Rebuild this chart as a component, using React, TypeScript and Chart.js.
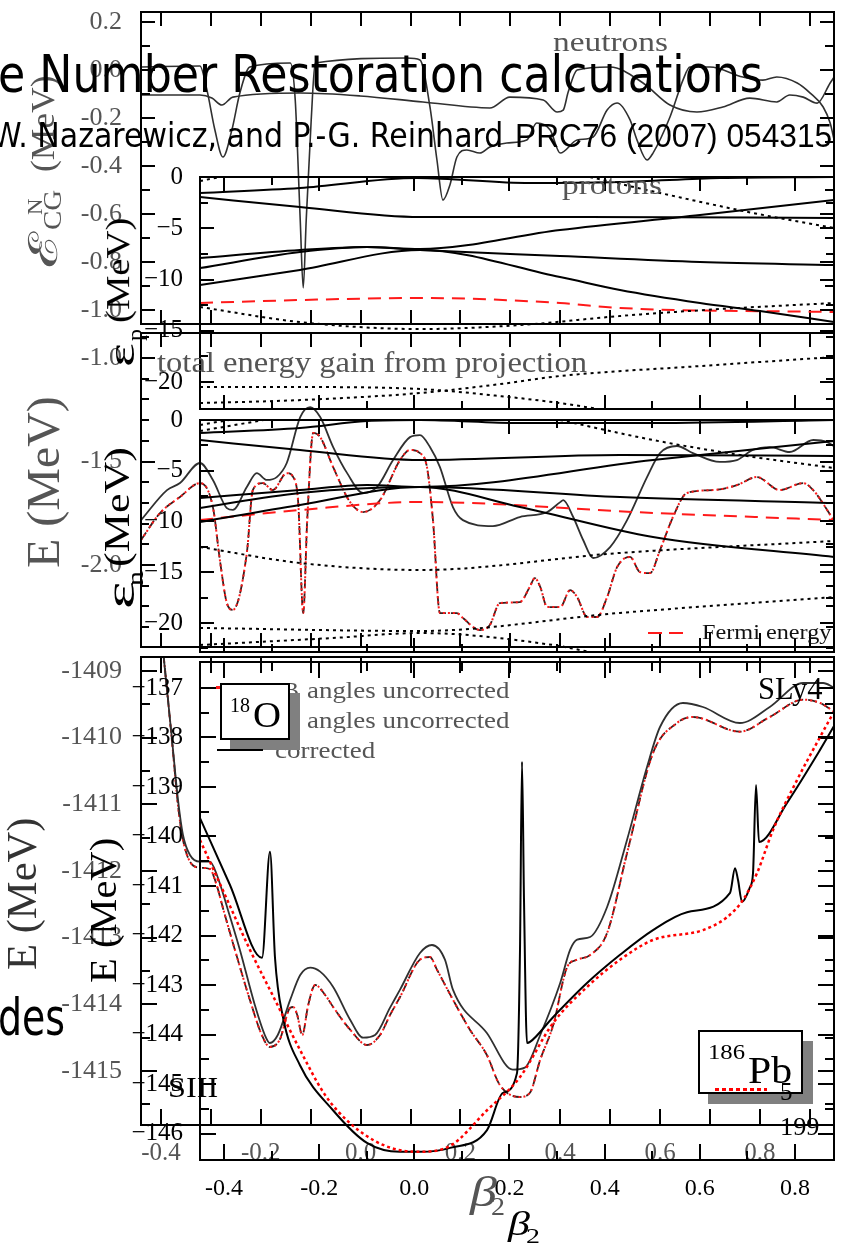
import React, { useEffect, useLayoutEffect, useRef } from 'react';
import { Chart, registerables } from 'chart.js';

Chart.register(...registerables);

type P = [number, number][];

// ================= Figure A (18O, gray) — x: beta2 =================
// Panel A1: E_CG^N (MeV), neutrons
const neutronsSmooth: P = [
  [-0.44, -0.104], [-0.322, -0.104], [-0.298, -0.117], [-0.278, -0.146], [-0.256, -0.113], [-0.121, -0.096],
  [-0.001, -0.108], [0.125, -0.133], [0.259, -0.158], [0.299, -0.113], [0.366, -0.125], [0.394, -0.175],
  [0.406, -0.167], [0.416, -0.092], [0.434, 0.0], [0.5, 0.0125], [0.566, -0.054], [0.62, -0.146],
  [0.674, -0.175], [0.726, -0.154], [0.78, -0.117], [0.834, -0.133], [0.86, -0.104], [0.887, -0.113],
  [0.915, -0.138], [0.941, -0.054], [0.949, -0.029],
];
const neutronsDips: P = [
  [-0.44, 0.0125], [-0.322, 0.017], [-0.308, -0.083], [-0.292, -0.25], [-0.276, -0.3625], [-0.258, -0.25],
  [-0.242, -0.096], [-0.222, 0.0125], [-0.141, 0.029], [-0.131, -0.125], [-0.121, -0.625], [-0.115, -0.908],
  [-0.109, -0.625], [-0.099, -0.208], [-0.091, 0.029], [0.093, 0.05], [0.119, 0.042], [0.139, -0.154],
  [0.153, -0.375], [0.165, -0.542], [0.179, -0.479], [0.193, -0.3625], [0.213, -0.333], [0.239, -0.346],
  [0.259, -0.321], [0.293, -0.304], [0.333, -0.292], [0.353, -0.221], [0.38, -0.25], [0.4, -0.346],
  [0.434, -0.292], [0.466, -0.279], [0.494, -0.167], [0.514, -0.1375], [0.54, -0.208], [0.554, -0.292],
  [0.574, -0.375], [0.586, -0.346], [0.62, -0.196], [0.646, -0.042], [0.66, 0.0125], [0.7, 0.0125],
  [0.766, -0.029], [0.806, -0.042], [0.834, -0.029], [0.875, -0.054], [0.901, -0.096], [0.927, -0.154],
  [0.941, -0.221], [0.949, -0.292],
];
// Panel A2: total energy gain from projection (MeV)
const gainSolid: P = [
  [-0.44, -1.783], [-0.388, -1.638], [-0.362, -1.604], [-0.322, -1.507], [-0.296, -1.589], [-0.268, -1.725],
  [-0.256, -1.734], [-0.228, -1.623], [-0.208, -1.556], [-0.188, -1.589], [-0.168, -1.575], [-0.148, -1.507],
  [-0.121, -1.285], [-0.101, -1.237], [-0.081, -1.285], [-0.055, -1.43], [-0.027, -1.556], [0.005, -1.652],
  [0.033, -1.623], [0.065, -1.493], [0.099, -1.382], [0.119, -1.372], [0.139, -1.43], [0.159, -1.527],
  [0.185, -1.72], [0.205, -1.783], [0.265, -1.812], [0.319, -1.768], [0.374, -1.744], [0.4, -1.696],
  [0.406, -1.686], [0.426, -1.768], [0.446, -1.879], [0.466, -1.966], [0.5, -1.913], [0.534, -1.783],
  [0.574, -1.575], [0.6, -1.459], [0.634, -1.425], [0.666, -1.459], [0.72, -1.502], [0.754, -1.493],
  [0.786, -1.444], [0.82, -1.43], [0.86, -1.454], [0.907, -1.396], [0.935, -1.406], [0.951, -1.43],
];
const gainDashed: P = [
  [-0.44, -1.879], [-0.402, -1.749], [-0.362, -1.671], [-0.322, -1.604], [-0.296, -1.72], [-0.282, -1.976],
  [-0.268, -2.184], [-0.256, -2.217], [-0.228, -1.942], [-0.216, -1.638], [-0.196, -1.604], [-0.176, -1.638],
  [-0.148, -1.556], [-0.135, -1.575], [-0.125, -1.7], [-0.115, -2.232], [-0.107, -1.783], [-0.095, -1.362],
  [-0.081, -1.382], [-0.055, -1.527], [-0.021, -1.696], [0.005, -1.744], [0.039, -1.686], [0.079, -1.493],
  [0.099, -1.444], [0.119, -1.459], [0.133, -1.527], [0.145, -1.783], [0.159, -2.232], [0.173, -2.232],
  [0.193, -2.232], [0.205, -2.256], [0.239, -2.314], [0.259, -2.29], [0.279, -2.184], [0.319, -2.179],
  [0.339, -2.106], [0.349, -2.063], [0.36, -2.106], [0.374, -2.203], [0.4, -2.203], [0.42, -2.121],
  [0.434, -2.155], [0.454, -2.251], [0.474, -2.251], [0.494, -2.155], [0.514, -2.01], [0.54, -1.961],
  [0.56, -2.034], [0.58, -2.039], [0.6, -1.928], [0.626, -1.768], [0.654, -1.652], [0.706, -1.638],
  [0.754, -1.614], [0.794, -1.575], [0.84, -1.638], [0.887, -1.604], [0.907, -1.638], [0.935, -1.734],
  [0.951, -1.797],
];
// Panel A3: E (MeV), 18O
const o18Corrected: P = [
  [-0.398, -1408.54], [-0.386, -1409.43], [-0.376, -1410.18], [-0.366, -1410.93], [-0.356, -1411.46],
  [-0.342, -1411.76], [-0.322, -1411.86], [-0.302, -1411.86], [-0.288, -1412.06], [-0.266, -1412.58],
  [-0.242, -1413.18], [-0.212, -1414.01], [-0.192, -1414.46], [-0.182, -1414.58], [-0.166, -1414.46],
  [-0.141, -1413.93], [-0.121, -1413.56], [-0.101, -1413.45], [-0.081, -1413.51], [-0.055, -1413.74],
  [-0.021, -1414.23], [0.005, -1414.5], [0.029, -1414.46], [0.059, -1414.05], [0.079, -1413.78],
  [0.119, -1413.23], [0.143, -1413.11], [0.169, -1413.33], [0.185, -1413.78], [0.253, -1414.43],
  [0.305, -1414.98], [0.329, -1414.95], [0.36, -1414.46], [0.4, -1413.68], [0.42, -1413.18],
  [0.434, -1413.03], [0.46, -1412.99], [0.494, -1412.54], [0.534, -1411.53], [0.574, -1410.44],
  [0.6, -1409.84], [0.646, -1409.48], [0.686, -1409.54], [0.76, -1409.78], [0.82, -1409.54],
  [0.887, -1409.18], [0.927, -1409.18], [0.949, -1409.25],
];
const o18Uncorrected: P = [
  [-0.398, -1408.54], [-0.386, -1409.43], [-0.376, -1410.21], [-0.366, -1411.01], [-0.356, -1411.53],
  [-0.342, -1411.86], [-0.322, -1411.95], [-0.302, -1411.97], [-0.292, -1412.13], [-0.272, -1412.66],
  [-0.252, -1413.18], [-0.222, -1413.93], [-0.198, -1414.46], [-0.182, -1414.64], [-0.162, -1414.53],
  [-0.141, -1414.05], [-0.135, -1414.04], [-0.127, -1414.16], [-0.117, -1414.46], [-0.105, -1414.01],
  [-0.091, -1413.71], [-0.071, -1413.86], [-0.055, -1414.04], [-0.021, -1414.38], [0.013, -1414.61],
  [0.039, -1414.46], [0.059, -1414.16], [0.079, -1413.89], [0.119, -1413.33], [0.139, -1413.29],
  [0.153, -1413.48], [0.185, -1413.93], [0.219, -1414.38], [0.253, -1414.76], [0.279, -1415.21],
  [0.319, -1415.39], [0.339, -1415.33], [0.36, -1414.83], [0.386, -1414.31], [0.414, -1413.44],
  [0.434, -1413.33], [0.46, -1413.26], [0.494, -1412.93], [0.534, -1411.73], [0.586, -1410.23],
  [0.634, -1409.78], [0.666, -1409.69], [0.76, -1409.91], [0.82, -1409.69], [0.887, -1409.43],
  [0.921, -1409.48], [0.949, -1409.61],
];

// ================= Figure B (186Pb, black) — x: beta2 =================
// Panel B1: proton levels eps_p (MeV)
const pLevel1: P = [[-0.4504, -1.56], [-0.2403, -1.07], [0.0056, -0.1], [0.2431, -0.59], [0.4323, -0.49], [0.6425, -0.1], [0.882, 0]];
const pLevel2: P = [[-0.4504, -1.95], [-0.2403, -2.93], [0.0119, -3.9], [0.3629, -3.9], [0.882, -4.0]];
const pLevel3: P = [[-0.4504, -7.9], [-0.2403, -7.12], [-0.0995, -6.83], [0.0119, -7.02], [0.3062, -5.17], [0.6004, -3.71], [0.882, -2.24]];
const pLevel4: P = [[-0.4504, -8.88], [-0.2403, -7.32], [-0.0995, -6.83], [0.0119, -7.12], [0.3062, -7.71], [0.6004, -8.29], [0.882, -8.59]];
const pLevel5: P = [[-0.4504, -10.54], [-0.2403, -9.07], [0.0119, -7.12], [0.3062, -9.76], [0.4323, -11.02], [0.6004, -12.29], [0.7265, -13.07], [0.882, -14.15]];
const pFermi: P = [[-0.4504, -12.29], [-0.2403, -12.0], [0.0119, -11.8], [0.3062, -12.29], [0.4323, -12.78], [0.882, -13.17]];
const pOther1: P = [[-0.4504, -0.39], [-0.3979, 0.1]];
const pOther2: P = [[0.3692, 0], [0.5164, -1.56], [0.7118, -3.51], [0.882, -4.98]];
const pOther3: P = [[-0.4504, -12.68], [-0.2403, -14.15], [0.0119, -14.83], [0.2221, -14.44], [0.4323, -13.56], [0.6425, -12.88], [0.882, -12.29]];
const pOther4: P = [[-0.4504, -22.05], [-0.2403, -21.76], [0.0119, -21.07], [0.1801, -20.2], [0.3062, -19.41], [0.6004, -18.44], [0.882, -17.56]];
const pOther5: P = [[-0.4504, -20.49], [-0.2403, -20.49], [0.0119, -20.68], [0.1801, -21.37], [0.3062, -22.05], [0.4008, -22.73]];
// Panel B2: neutron levels eps_n (MeV)
const nLevel1: P = [[-0.4504, -1.28], [-0.2403, -0.79], [-0.0995, -0.1], [0.0119, 0], [0.2221, -0.3], [0.5016, -0.3], [0.882, 0]];
const nLevel2: P = [[-0.4504, -1.97], [-0.2403, -2.96], [0.0119, -3.94], [0.4323, -3.45], [0.882, -3.55]];
const nLevel3: P = [[-0.4504, -7.68], [-0.2403, -6.9], [-0.0995, -6.4], [0.0119, -6.6], [0.5016, -3.94], [0.882, -2.07]];
const nLevel4: P = [[-0.4504, -8.67], [-0.2403, -7.19], [0.0119, -6.6], [0.4323, -7.59], [0.882, -8.18]];
const nLevel5: P = [[-0.4504, -10.05], [-0.2403, -8.37], [0.0119, -6.6], [0.2221, -8.57], [0.5016, -11.53], [0.882, -13.5]];
const nFermi: P = [[-0.4504, -9.85], [-0.2403, -8.87], [0.0119, -8.08], [0.5016, -9.16], [0.882, -9.85]];
const nOther1: P = [[-0.4504, -0.49], [-0.3769, 0.1]];
const nOther2: P = [[-0.4504, -1.08], [-0.3033, 0.1]];
const nOther3: P = [[0.3062, 0], [0.5016, -1.97], [0.6845, -3.45], [0.882, -4.73]];
const nOther4: P = [[-0.4504, -12.51], [-0.2403, -14.09], [0.0119, -14.78], [0.4323, -13.1], [0.882, -11.92]];
const nOther5: P = [[-0.4504, -20.49], [0.0119, -20.79], [0.4323, -19.01], [0.882, -17.44]];
const nOther6: P = [[-0.4504, -22.17], [-0.1709, -21.48], [0.0119, -20.99], [0.2915, -22.17], [0.3692, -22.86]];
// Panel B3: E (MeV), 186Pb
const pb186Solid: P = [
  [-0.4504, -139.63], [-0.3874, -140.98], [-0.3201, -142.45], [-0.3033, -140.31], [-0.2928, -142.45],
  [-0.276, -143.65], [-0.2403, -144.62], [-0.1709, -145.53], [-0.0995, -146.19], [-0.0301, -146.37],
  [0.0119, -146.37], [0.075, -146.29], [0.1528, -145.93], [0.1864, -145.18], [0.2158, -144.78],
  [0.2221, -142.29], [0.2263, -138.49], [0.2305, -141.28], [0.2368, -144.17], [0.2431, -144.15],
  [0.2915, -143.65], [0.3629, -142.96], [0.4323, -142.39], [0.5016, -141.89], [0.5731, -141.53],
  [0.6635, -141.14], [0.674, -140.64], [0.6803, -140.88], [0.6887, -141.32], [0.7055, -141.02],
  [0.7118, -140.74], [0.7181, -138.96], [0.7244, -140.11], [0.7833, -139.32], [0.8527, -138.25],
  [0.882, -137.77],
];
const pb186Dotted: P = [
  [-0.4504, -140.07], [-0.3979, -141.18], [-0.3454, -142.29], [-0.2928, -143.3], [-0.2403, -144.31],
  [-0.1877, -145.22], [-0.1352, -145.79], [-0.0658, -146.23], [0.0056, -146.37], [0.075, -146.25],
  [0.1528, -145.53], [0.2221, -144.86], [0.2915, -143.77], [0.3629, -143.04], [0.4323, -142.49],
  [0.5016, -142.09], [0.6067, -141.89], [0.6572, -141.63], [0.6908, -141.28], [0.7202, -140.74],
  [0.7538, -139.87], [0.8043, -138.86], [0.8527, -137.99], [0.882, -137.48],
];

// ================= tick labels =================
const betaTicksA = [-0.4, -0.2, 0.0, 0.2, 0.4, 0.6, 0.8];
const betaTicksB = [-0.4, -0.2, 0.0, 0.2, 0.4, 0.6, 0.8];
const ecgTicks = [0.2, 0.0, -0.2, -0.4, -0.6, -0.8, -1.0];
const gainTicks = [-1.0, -1.5, -2.0];
const o18Ticks = [-1409, -1410, -1411, -1412, -1413, -1414, -1415];
const epsTicks = [0, -5, -10, -15, -20];
const pbTicks = [-137, -138, -139, -140, -141, -142, -143, -144, -145, -146];

// ================= layout helpers =================
const M = 60;
const CW = 841 + 2 * M;
const CH = 1246 + 2 * M;
const SERIF = "'Liberation Serif', 'DejaVu Serif', serif";
const SANS = "'DejaVu Sans', 'Noto Sans', sans-serif";
const GRAY = '#555';

function range(a: number, b: number, s: number) {
  const out: number[] = [];
  const n = Math.round((b - a) / s);
  for (let i = 0; i <= n; i++) out.push(+(a + i * s).toFixed(6));
  return out;
}

const line = (d: P, color: string, w: number, dash: number[] = [], smooth = true) => ({
  data: d.map(([x, y]) => ({ x, y })),
  borderColor: color,
  borderWidth: w,
  borderDash: dash,
  pointRadius: 0,
  fill: false,
  cubicInterpolationMode: smooth ? 'monotone' : 'default',
  tension: 0,
});

type Panel = {
  rect: [number, number, number, number];
  xr: [number, number];
  yr: [number, number];
  yTicks: number[];
  yFmt: (v: number) => string;
  yColor: string;
  yFont: number;
  yPad: number;
  xTicks?: number[];
  xColor?: string;
  xFont?: number;
  xPad?: number;
  frame: { xMaj: number[]; xMin: number[]; yMaj: number[]; yMin: number[]; lMaj: number; lMin: number };
  datasets: any[];
};

function framePlugin(f: Panel['frame']) {
  return {
    id: 'frame',
    afterDatasetsDraw(chart: any) {
      const { ctx, chartArea: a, scales } = chart;
      const xs = scales.x;
      const ys = scales.y;
      ctx.save();
      ctx.strokeStyle = '#000';
      ctx.lineWidth = 2;
      ctx.setLineDash([]);
      ctx.beginPath();
      const seg = (x1: number, y1: number, x2: number, y2: number) => {
        ctx.moveTo(x1, y1);
        ctx.lineTo(x2, y2);
      };
      const vx = (vals: number[], len: number) =>
        vals.forEach((v) => {
          const px = Math.round(xs.getPixelForValue(v));
          if (px <= a.left + 2 || px >= a.right - 2) return;
          seg(px, a.bottom, px, a.bottom - len);
          seg(px, a.top, px, a.top + len);
        });
      const vy = (vals: number[], len: number) =>
        vals.forEach((v) => {
          const py = Math.round(ys.getPixelForValue(v));
          if (py <= a.top + 2 || py >= a.bottom - 2) return;
          seg(a.left, py, a.left + len, py);
          seg(a.right, py, a.right - len, py);
        });
      vx(f.xMaj, f.lMaj);
      vx(f.xMin, f.lMin);
      vy(f.yMaj, f.lMaj);
      vy(f.yMin, f.lMin);
      ctx.stroke();
      ctx.strokeRect(a.left, a.top, a.right - a.left, a.bottom - a.top);
      ctx.restore();
    },
  };
}

function buildConfig(p: Panel): any {
  const [l, t, r, b] = p.rect;
  const wY = 140;
  const hX = 60;
  const showX = !!p.xTicks;
  return {
    type: 'line',
    data: { datasets: p.datasets },
    options: {
      responsive: false,
      animation: false,
      devicePixelRatio: 1,
      layout: {
        padding: { left: M + l - wY, top: M + t, right: CW - (M + r), bottom: CH - (M + b) - (showX ? hX : 0) },
      },
      plugins: { legend: { display: false }, tooltip: { enabled: false } },
      scales: {
        x: {
          type: 'linear',
          min: p.xr[0],
          max: p.xr[1],
          display: showX,
          grid: { display: false, drawTicks: false },
          border: { display: false },
          afterBuildTicks: (s: any) => {
            s.ticks = (p.xTicks || []).map((v) => ({ value: v }));
          },
          ticks: {
            autoSkip: false,
            maxRotation: 0,
            padding: p.xPad ?? 13,
            color: p.xColor ?? '#000',
            font: { family: SERIF, size: p.xFont ?? 24 },
            callback: (v: number) => (Math.abs(v) < 1e-9 ? '0.0' : (+v).toFixed(1)),
          },
          afterFit: (s: any) => {
            s.height = showX ? hX : 0;
          },
        },
        y: {
          type: 'linear',
          position: 'left',
          min: p.yr[0],
          max: p.yr[1],
          grid: { display: false, drawTicks: false },
          border: { display: false },
          afterBuildTicks: (s: any) => {
            s.ticks = p.yTicks.map((v) => ({ value: v }));
          },
          ticks: {
            autoSkip: false,
            padding: p.yPad,
            color: p.yColor,
            font: { family: SERIF, size: p.yFont },
            callback: (v: number) => p.yFmt(+v),
          },
          afterFit: (s: any) => {
            s.width = wY;
          },
        },
      },
    },
    plugins: [framePlugin(p.frame)],
  };
}

const A_X: [number, number] = [-0.4401, 0.9487];
const B_X: [number, number] = [-0.4504, 0.882];
const aFrameX = { xMaj: range(-0.4, 0.9, 0.1), xMin: [] as number[] };
const bFrameX = { xMaj: range(-0.4, 0.8, 0.2), xMin: range(-0.3, 0.7, 0.2) };
const fmtA1 = (v: number) => (Math.abs(v) < 1e-9 ? '0.0' : v.toFixed(1));
const fmtB = (v: number) => (Math.abs(v) < 1e-9 ? '0' : '\u2212' + Math.abs(Math.round(v)));

const RED = '#ff1a1a';
const A_LINE = '#303030';

const panels: Panel[] = [
  {
    rect: [141, 12, 834, 324], xr: A_X, yr: [-1.0583, 0.2417], yTicks: ecgTicks, yFmt: fmtA1, yColor: GRAY, yFont: 26, yPad: 19,
    frame: { ...aFrameX, yMaj: range(-1.0, 0.2, 0.2), yMin: range(-0.9, 0.1, 0.2), lMaj: 14, lMin: 9 },
    datasets: [line(neutronsSmooth, A_LINE, 1.6), line(neutronsDips, A_LINE, 1.6)],
  },
  {
    rect: [141, 333, 834, 647], xr: A_X, yr: [-2.396, -0.879], yTicks: gainTicks, yFmt: (v) => v.toFixed(1), yColor: GRAY, yFont: 26, yPad: 19,
    frame: { ...aFrameX, yMaj: range(-2.0, -1.0, 0.5), yMin: range(-2.3, -0.9, 0.1), lMaj: 14, lMin: 8 },
    datasets: [line(gainSolid, A_LINE, 1.8), line(gainDashed, RED, 2, [2, 3]), line(gainDashed, '#3a1d1d', 1.8, [9, 5])],
  },
  {
    rect: [141, 657, 834, 1125], xr: A_X, yr: [-1415.81, -1408.79], yTicks: o18Ticks, yFmt: (v) => String(Math.round(v)), yColor: GRAY, yFont: 26, yPad: 19,
    xTicks: betaTicksA, xColor: GRAY, xFont: 25, xPad: 13,
    frame: { ...aFrameX, yMaj: range(-1415, -1409, 1), yMin: range(-1415.5, -1409, 0.5), lMaj: 16, lMin: 9 },
    datasets: [line(o18Corrected, A_LINE, 1.8), line(o18Uncorrected, RED, 2, [2, 3]), line(o18Uncorrected, '#3a1d1d', 1.8, [9, 5])],
  },
  {
    rect: [200, 177, 834, 409], xr: B_X, yr: [-22.63, 0], yTicks: epsTicks, yFmt: fmtB, yColor: '#000', yFont: 25, yPad: 17,
    frame: { ...bFrameX, yMaj: range(-20, 0, 5), yMin: range(-22.5, 0, 2.5), lMaj: 14, lMin: 8 },
    datasets: [
      line(pLevel1, '#000', 2), line(pLevel2, '#000', 2), line(pLevel3, '#000', 2), line(pLevel4, '#000', 2), line(pLevel5, '#000', 2),
      line(pOther1, '#000', 2, [3, 4]), line(pOther2, '#000', 2, [3, 4]), line(pOther3, '#000', 2, [3, 4]),
      line(pOther4, '#000', 2, [3, 4]), line(pOther5, '#000', 2, [3, 4]),
      line(pFermi, RED, 2, [13, 8]),
    ],
  },
  {
    rect: [200, 420, 834, 652], xr: B_X, yr: [-22.86, 0], yTicks: epsTicks, yFmt: fmtB, yColor: '#000', yFont: 25, yPad: 17,
    frame: { ...bFrameX, yMaj: range(-20, 0, 5), yMin: range(-22.5, 0, 2.5), lMaj: 14, lMin: 8 },
    datasets: [
      line(nLevel1, '#000', 2), line(nLevel2, '#000', 2), line(nLevel3, '#000', 2), line(nLevel4, '#000', 2), line(nLevel5, '#000', 2),
      line(nOther1, '#000', 2, [3, 4]), line(nOther2, '#000', 2, [3, 4]), line(nOther3, '#000', 2, [3, 4]),
      line(nOther4, '#000', 2, [3, 4]), line(nOther5, '#000', 2, [3, 4]), line(nOther6, '#000', 2, [3, 4]),
      line(nFermi, RED, 2, [13, 8]),
    ],
  },
  {
    rect: [200, 662, 834, 1160], xr: B_X, yr: [-146.535, -136.475], yTicks: pbTicks, yFmt: fmtB, yColor: '#000', yFont: 25, yPad: 17,
    xTicks: betaTicksB, xColor: '#000', xFont: 24, xPad: 14,
    frame: { ...bFrameX, yMaj: range(-146, -137, 1), yMin: range(-146.5, -136.5, 0.5), lMaj: 16, lMin: 9 },
    datasets: [line(pb186Dotted, '#ff0000', 2.5, [3, 3]), line(pb186Solid, '#000', 2)],
  },
];

// ================= text helpers =================
type TP = {
  x: number; b: number; s: number; w?: number; fam?: string; color?: string; rot?: boolean; italic?: boolean; children: React.ReactNode;
};
function T({ x, b, s, w, fam = SERIF, color = '#000', rot = false, italic = false, children }: TP) {
  // non-rotated: x = left, b = baseline. rotated: x = baseline x, b = bottom end of text.
  const tx = rot ? x - 0.85 * s : x;
  const ty = rot ? b : b - 0.85 * s;
  return (
    <div
      data-t="1"
      data-x={tx}
      data-y={ty}
      data-w={w ?? ''}
      data-rot={rot ? '1' : '0'}
      style={{
        position: 'absolute', left: 0, top: 0, fontSize: s, lineHeight: 1, fontFamily: fam, color,
        whiteSpace: 'nowrap', transformOrigin: '0 0', fontStyle: italic ? 'italic' : 'normal',
        transform: rot ? `translate(${tx}px, ${ty}px) rotate(-90deg)` : `translate(${tx}px, ${ty}px)`,
      }}
    >
      {children}
    </div>
  );
}
const Box = ({ l, t, w, h, bg, border }: { l: number; t: number; w: number; h: number; bg?: string; border?: string }) => (
  <div style={{ position: 'absolute', left: l, top: t, width: w, height: h, background: bg, border, boxSizing: 'border-box' }} />
);

export default function App() {
  const canv = useRef<(HTMLCanvasElement | null)[]>([]);

  useEffect(() => {
    const charts = panels.map((p, i) => new Chart(canv.current[i] as HTMLCanvasElement, buildConfig(p)));
    return () => charts.forEach((c) => c.destroy());
  }, []);

  useLayoutEffect(() => {
    document.querySelectorAll<HTMLElement>('[data-t]').forEach((el) => {
      const x = +el.dataset.x!;
      const y = +el.dataset.y!;
      const w = el.dataset.w ? +el.dataset.w : 0;
      const rot = el.dataset.rot === '1';
      const nw = el.offsetWidth;
      const k = w && nw ? w / nw : 1;
      el.style.transform = rot
        ? `translate(${x}px, ${y}px) rotate(-90deg) scaleX(${k})`
        : `translate(${x}px, ${y}px) scaleX(${k})`;
    });
  }, []);

  return (
    <div style={{ position: 'absolute', left: 0, top: 0, width: 841, height: 1246, overflow: 'hidden', background: '#fff' }}>
      {panels.map((_, i) => (
        <canvas
          key={i}
          ref={(el) => { canv.current[i] = el; }}
          width={CW}
          height={CH}
          style={{ position: 'absolute', left: -M, top: -M, width: CW, height: CH }}
        />
      ))}

      {/* Figure A labels (gray) */}
      <T x={553} b={52} s={27} w={115} color={GRAY}>neutrons</T>
      <T x={562} b={195} s={27} w={100} color={GRAY}>protons</T>
      <T x={157} b={372} s={30} w={430} color={GRAY}>total energy gain from projection</T>
      <T x={58} b={268} s={40} w={36} color={GRAY} rot>ℰ</T>
      <T x={62} b={230} s={26} w={40} color={GRAY} rot>CG</T>
      <T x={42} b={215} s={20} w={16} color={GRAY} rot>N</T>
      <T x={55} b={172} s={34} w={97} color={GRAY} rot>(MeV)</T>
      <T x={60} b={568} s={46} w={172} color={GRAY} rot>E (MeV)</T>
      <T x={37} b={970} s={42} w={152} color="#333" rot>E (MeV)</T>
      <T x={470} b={1207} s={42} w={27} color={GRAY} italic>β</T>
      <T x={491} b={1216} s={26} w={14} color={GRAY}>2</T>
      <T x={283} b={698} s={24} color={GRAY}>B</T>
      <T x={307} b={698} s={24} w={203} color={GRAY}>angles uncorrected</T>
      <T x={307} b={728} s={24} w={203} color={GRAY}>angles uncorrected</T>
      <T x={275} b={758} s={24} w={100} color={GRAY}>corrected</T>

      {/* 18O legend box */}
      <Box l={216} t={686} w={6} h={3} bg={RED} />
      <Box l={230} t={693} w={70} h={57} bg="#808080" />
      <Box l={220} t={683} w={70} h={57} bg="#fff" border="2px solid #000" />
      <Box l={217} t={749} w={46} h={2} bg="#000" />
      <T x={230} b={712} s={20} w={20}>18</T>
      <T x={253} b={728} s={36} w={28}>O</T>

      {/* Figure B labels (black) */}
      <T x={134} b={367} s={38} w={24} rot>ε</T>
      <T x={143} b={341} s={22} w={12} rot>p</T>
      <T x={130} b={323} s={34} w={106} rot>(MeV)</T>
      <T x={135} b={609} s={40} w={28} rot>ε</T>
      <T x={143} b={586} s={24} w={15} rot>n</T>
      <T x={130} b={567} s={36} w={120} rot>(MeV)</T>
      <T x={116} b={983} s={38} w={145} rot>E (MeV)</T>
      <T x={508} b={1236} s={34} w={22} italic>β</T>
      <T x={526} b={1244} s={22} w={14}>2</T>
      <T x={702} b={640} s={22} w={130} color="#111">Fermi energy</T>
      <Box l={648} t={632} w={14} h={2} bg={RED} />
      <Box l={669} t={632} w={14} h={2} bg={RED} />
      <T x={758} b={699} s={31} w={64}>SLy4</T>
      <T x={168} b={1098} s={29} w={50}>SIII</T>
      <T x={780} b={1135} s={25} w={40}>199</T>

      {/* 186Pb legend box */}
      <Box l={708} t={1041} w={105} h={63} bg="#808080" />
      <Box l={698} t={1030} w={105} h={64} bg="#fff" border="2px solid #000" />
      <T x={708} b={1060} s={22} w={37}>186</T>
      <T x={748} b={1083} s={38} w={44}>Pb</T>
      <div style={{ position: 'absolute', left: 715, top: 1088, width: 52, height: 3, background: 'repeating-linear-gradient(90deg, #ff0000 0 4px, transparent 4px 7px)' }} />
      <T x={780} b={1100} s={25}>5</T>

      {/* Slide overlay text */}
      <T x={-2} b={92} s={52} w={765} fam={SANS}>e Number Restoration calculations</T>
      <T x={-8} b={147} s={33} w={511} fam={SANS}>W. Nazarewicz, and P.-G. Reinhard</T>
      <T x={515} b={147} s={33} w={317} fam="'Liberation Sans', Arial, sans-serif">PRC76 (2007) 054315</T>
      <T x={-2} b={1035} s={52} w={67} fam={SANS}>des</T>
    </div>
  );
}
